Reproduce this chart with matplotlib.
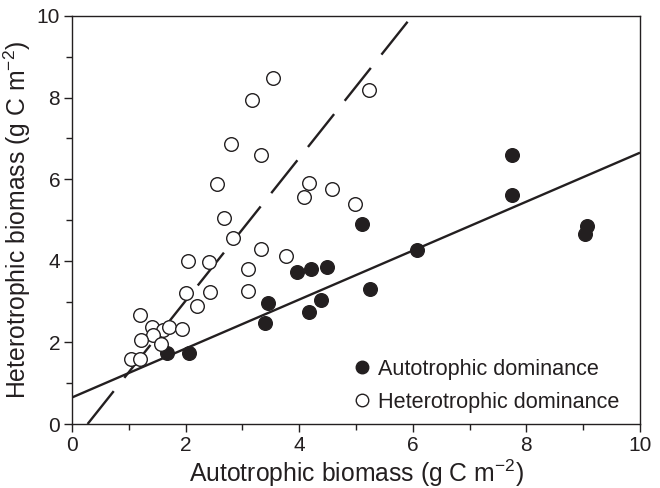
import matplotlib
matplotlib.use("Agg")
import matplotlib.pyplot as plt
import numpy as np

plt.rcParams['font.family'] = ['Liberation Sans', 'DejaVu Sans']
plt.rcParams['mathtext.fontset'] = 'custom'
plt.rcParams['mathtext.rm'] = 'Liberation Sans'

INK = '#231f20'

# Autotrophic dominance (filled)
auto_x = [1.68, 2.06, 3.45, 3.39, 3.97, 4.21, 4.49, 4.18, 4.38, 5.10, 5.25, 6.07, 7.75, 7.75, 9.06, 9.03]
auto_y = [1.73, 1.73, 2.96, 2.47, 3.73, 3.79, 3.86, 2.75, 3.05, 4.89, 3.30, 4.26, 6.59, 5.61, 4.86, 4.66]

# Heterotrophic dominance (open)
het_x = [3.53, 3.17, 2.80, 3.33, 2.55, 4.17, 4.08, 4.57, 4.99, 5.23, 2.67, 2.83, 3.32, 3.77,
         3.10, 3.10, 2.05, 2.42, 2.01, 2.43, 2.20, 1.20, 1.41, 1.60, 1.70, 1.94, 1.43, 1.21,
         1.56, 1.03, 1.20]
het_y = [8.49, 7.94, 6.86, 6.59, 5.89, 5.91, 5.56, 5.75, 5.38, 8.19, 5.04, 4.56, 4.28, 4.12,
         3.79, 3.25, 3.99, 3.96, 3.21, 3.24, 2.89, 2.68, 2.37, 2.30, 2.37, 2.32, 2.17, 2.05,
         1.96, 1.59, 1.59]

# Regression lines
auto_intercept, auto_slope = 0.65, 0.60
het_intercept, het_slope = -0.48, 1.75
het_line_ymax = 9.87

xticks = [0, 2, 4, 6, 8, 10]
yticks = [0, 2, 4, 6, 8, 10]

fig = plt.figure(figsize=(6.6, 4.88), dpi=100)
ax = fig.add_axes([72/660, 1 - 424/488, (640 - 72)/660, (424 - 16)/488])

# solid line for autotrophic
lx = np.array([0, 10])
ax.plot(lx, auto_intercept + auto_slope * lx, color=INK, lw=1.7, solid_capstyle='butt', zorder=2)

# dashed line for heterotrophic
hx0 = -het_intercept / het_slope
hx1 = (het_line_ymax - het_intercept) / het_slope
hx = np.array([hx0, hx1])
lw_d = 1.7
ln, = ax.plot(hx, het_intercept + het_slope * hx, color=INK, lw=lw_d, zorder=2,
              dash_capstyle='butt')
ln.set_dashes([42 * 0.72 / lw_d, 17 * 0.72 / lw_d])

ax.plot(auto_x, auto_y, 'o', ms=9.8, mfc=INK, mec=INK, mew=1.0, ls='none',
        label='Autotrophic dominance', zorder=3)
ax.plot(het_x, het_y, 'o', ms=9.8, mfc='white', mec=INK, mew=1.0, ls='none',
        label='Heterotrophic dominance', zorder=3)

ax.set_xlim(0, 10)
ax.set_ylim(0, 10)
ax.set_xticks(xticks)
ax.set_yticks(yticks)
ax.set_xticks([1, 3, 5, 7, 9], minor=True)
ax.set_yticks([1, 3, 5, 7, 9], minor=True)
ax.tick_params(which='major', direction='out', length=6, width=1.0, color=INK,
               labelsize=15, labelcolor=INK, pad=2.5)
ax.tick_params(which='minor', direction='out', length=4, width=1.0, color=INK)
for s in ax.spines.values():
    s.set_color(INK)
    s.set_linewidth(1.0)

ax.set_xlabel('Autotrophic biomass (g C m$^{\\mathregular{-2}}$)', fontsize=17.8, color=INK, labelpad=2)
ax.set_ylabel('Heterotrophic biomass (g C m$^{\\mathregular{-2}}$)', fontsize=17.8, color=INK, labelpad=3)

leg = ax.legend(loc='upper left', bbox_to_anchor=((351 - 72)/568, (424 - 359)/408),
                frameon=False, fontsize=15.6, handlelength=1.0, handletextpad=0.25,
                borderpad=0, borderaxespad=0, labelspacing=0.55, markerscale=0.92)
for t in leg.get_texts():
    t.set_color(INK)

fig.savefig('out.png', dpi=100)
